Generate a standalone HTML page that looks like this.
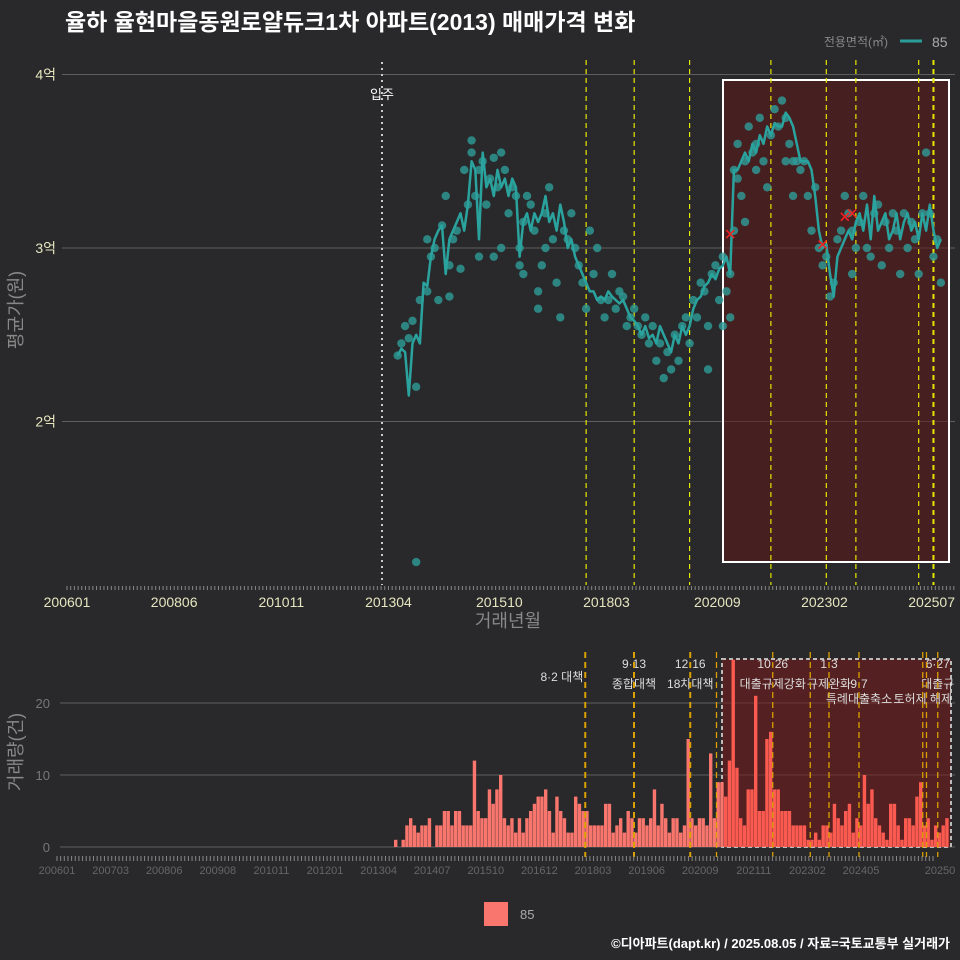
<!DOCTYPE html>
<html><head><meta charset="utf-8">
<style>
html,body{margin:0;padding:0;background:#29292b;}
svg{display:block;font-family:"Liberation Sans","Noto Sans CJK KR",sans-serif;}
</style></head>
<body>
<svg id="chart" width="960" height="960" viewBox="0 0 960 960">
<defs><clipPath id="clipAll"><rect x="0" y="0" width="955" height="960"/></clipPath></defs>
<rect x="0" y="0" width="960" height="960" fill="#29292b"/>
<text x="65" y="30" fill="#ffffff" font-size="23" font-weight="bold">율하 율현마을동원로얄듀크1차 아파트(2013) 매매가격 변화</text>
<g>
<text x="888" y="46" fill="#888" font-size="12" text-anchor="end">전용면적(㎡)</text>
<line x1="900" y1="41" x2="922" y2="41" stroke="#2a9d99" stroke-width="3"/>
<text x="932" y="47" fill="#aaa" font-size="14">85</text>
</g>
<g id="topPanel"></g>
<g id="botPanel"></g>
<g>
<rect x="484" y="902" width="24" height="24" fill="#f8766d"/>
<text x="520" y="919" fill="#aaa" font-size="13">85</text>
</g>
<text x="950" y="948" fill="#ffffff" font-size="13" font-weight="bold" text-anchor="end">©디아파트(dapt.kr) / 2025.08.05 / 자료=국토교통부 실거래가</text>
</svg>
<script>
// ---- data ----
const startMonth = 88; // months since 200601 -> 201305
const avgPrice = [
2.38,2.42,2.40,2.15,2.45,2.50,2.45,2.80,
2.78,2.95,3.05,3.10,3.13,2.85,3.05,3.10,3.15,3.20,3.10,3.25,
3.50,3.45,3.05,3.55,3.35,3.40,3.30,3.45,3.35,3.40,3.30,3.40,
3.35,2.95,3.15,3.20,3.10,3.20,3.15,3.20,3.30,3.15,3.20,3.10,
3.25,3.15,3.00,3.05,2.95,2.90,2.85,2.80,2.75,2.75,2.70,2.72,
2.70,2.75,2.72,2.70,2.68,2.70,2.65,2.60,2.58,2.55,2.50,2.55,
2.48,2.50,2.45,2.55,2.50,2.45,2.40,2.50,2.45,2.55,2.50,2.55,
2.65,2.70,2.72,2.78,2.80,2.85,2.82,2.88,2.90,2.95,2.85,3.45,
3.45,3.50,3.55,3.50,3.60,3.55,3.65,3.60,3.70,3.65,3.72,3.70,
3.70,3.78,3.75,3.70,3.60,3.50,3.50,3.50,3.45,3.30,3.10,3.00,
3.02,2.85,2.72,2.95,3.00,3.05,3.10,3.05,3.15,3.20,3.10,3.25,
3.05,3.30,3.10,3.15,3.20,3.05,3.10,3.20,3.05,3.15,3.20,3.10,
3.15,3.05,3.20,3.10,3.25,3.10,3.00,3.05];
const deals = [[0,2.38],[1,2.45],[2,2.55],[3,2.48],[4,2.58],[5,1.19],[5,2.2],[6,2.7],
[8,2.75],[8,3.05],[9,2.95],[10,3.0],[11,2.7],[12,3.13],[13,3.3],[14,2.9],[14,2.72],[15,3.05],[16,3.1],[17,2.88],[18,3.45],[19,3.25],
[20,3.55],[20,3.62],[21,3.3],[22,3.45],[23,3.5],[24,3.25],[25,3.4],[26,3.52],[27,3.35],[28,3.55],[29,3.45],[30,3.2],[31,3.35],[22,2.95],[26,2.95],[28,3.0],
[32,3.3],[33,2.9],[33,3.0],[34,2.85],[35,3.3],[36,3.25],[37,3.1],[38,2.65],[38,2.75],[39,2.9],[40,3.2],[41,3.35],[42,3.05],[43,2.8],[34,3.15],[40,3.0],
[44,2.6],[45,3.1],[46,3.05],[47,3.2],[48,3.0],[49,2.9],[50,2.8],[51,2.65],[52,3.1],[53,2.85],[54,3.0],[55,2.7],
[56,2.6],[57,2.7],[58,2.85],[59,2.65],[60,2.75],[61,2.72],[62,2.55],[63,2.6],[64,2.65],[65,2.55],[66,2.5],[67,2.6],
[68,2.45],[69,2.55],[70,2.35],[71,2.45],[72,2.25],[73,2.4],[74,2.3],[75,2.5],[76,2.35],[77,2.55],[78,2.6],[79,2.45],
[80,2.7],[81,2.6],[82,2.8],[83,2.75],[84,2.55],[85,2.85],[86,2.9],[87,2.7],[88,2.95],[89,2.75],[90,2.6],[91,3.45],[91,3.1],[90,2.85],[88,2.55],[84,2.3],
[92,3.4],[92,3.6],[93,3.3],[94,3.5],[95,3.7],[96,3.55],[97,3.6],[98,3.75],[99,3.5],[100,3.35],[101,3.65],[102,3.8],[103,3.7],[94,3.15],[97,3.45],
[104,3.85],[105,3.75],[106,3.6],[107,3.5],[108,3.5],[109,3.45],[110,3.5],[111,3.3],[112,3.1],[113,3.35],[114,3.0],[115,2.9],[105,3.5],[107,3.3],
[116,2.95],[117,2.72],[118,2.8],[119,3.05],[120,3.1],[121,3.3],[122,3.2],[123,3.1],[124,3.0],[125,3.15],[126,3.3],[127,3.0],[123,2.85],
[128,2.95],[129,3.2],[130,3.25],[131,2.9],[132,3.15],[133,3.0],[134,3.2],[135,3.1],[136,2.85],[137,3.2],[138,3.0],[139,3.15],
[140,3.05],[141,2.85],[142,3.2],[143,3.55],[144,3.2],[145,2.95],[146,3.05],[147,2.8]];
const cancelled = [[90,3.08],[115,3.02],[121,3.18],[123,3.2]];
const volume = [1,0,1,3,4,3,2,3,3,4,0,3,3,5,5,3,5,5,3,3,3,12,
5,4,4,8,6,8,10,4,3,4, 2,4,2,4,5,6,7,7,8,5, 2,7,5,4,2,2,7,6,5,5, 3,3,3,3,6,6,2,3,4,2, 5,4,2,4,4,3,4,8,3,6, 4,2,4,4,2,3,15,4,3,4, 4,3,13,4,9,9,7,
12,26,11,4,3,8,8,21,5,5, 15,16,8,8,5,5,5,3,3,3, 3,1,1,2,1,3,3,2,6,4, 3,5,6,2,4,3,10,6,8,4, 3,2,1,6,6,3,1,4,4,3, 7,9,3,4,1,3,2,3,4];
const priceTicks = [2,3,4];
const priceTickLabels = ["2억","3억","4억"];
const topXLabels = ["200601","200806","201011","201304","201510","201803","202009","202302","202507"];
const topXMonths = [0,29,58,87,117,146,176,205,234];
const volTicks = [0,10,20];
const botXLabels = ["200601","200703","200806","200908","201011","201201","201304","201407","201510","201612","201803","201906","202009","202111","202302","202405","20250"];
const policyMonths = [139,152,167,174,189,199,204,212,229,230,233];
const policyOnTop = [1,1,1,0,1,0,1,1,1,0,1];
const policyDate = ["8·2 대책","9·13","12·16","","10·26","","1·3","9·7","","","6·27"];
const policyDateRow = [1,0,0,0,0,0,0,1,0,0,0];
const policyName = ["","종합대책","18차대책","","대출규제강화","","규제완화","특례대출축소","토허제 해제","","대출규"];
const policyNameRow = [1,1,1,1,1,1,1,2,2,1,1];
const moveInMonth = 86;

// ---- scales ----
const NS="http://www.w3.org/2000/svg";
function mk(tag, attrs, parent, txt){const e=document.createElementNS(NS,tag);for(const k in attrs)e.setAttribute(k,attrs[k]);if(txt!==undefined)e.textContent=txt;parent.appendChild(e);return e;}
const xTop = m => 394 + (m-87)*3.695;
const yTop = v => 248 - (v-3)*173.5;
const xBot = m => 394 + (m-88)*3.75;
const yBot = v => 847 - v*7.2;
const rowY = [668, 688, 703];
const topG = document.getElementById('topPanel');
const botG = document.getElementById('botPanel');

// ---- top panel ----
for (let i=0;i<priceTicks.length;i++){
  const y=yTop(priceTicks[i]);
  const g=mk('line',{x1:62,y1:y,x2:955,y2:y,stroke:'#5e5e5e','stroke-width':1},topG);
  
  
  const t=mk('text',{x:56,y:y+5,fill:'#e6e6c0','font-size':14,'text-anchor':'end'},topG,priceTickLabels[i]);
  
  
}
const box1=mk('rect',{x:723,y:80,width:226,height:482,fill:'rgba(95,25,25,0.55)',stroke:'#ffffff','stroke-width':2},topG);


const mv=mk('line',{x1:382,y1:62,x2:382,y2:585,stroke:'#cccccc','stroke-width':2,'stroke-dasharray':'2,4'},topG);


const mvt=mk('text',{x:382,y:99,fill:'#ffffff','font-size':13,'text-anchor':'middle'},topG,'입주');


for (let i=0;i<policyMonths.length;i++){
  if(!policyOnTop[i]) continue;
  const x=xTop(policyMonths[i]);
  const l=mk('line',{x1:x,y1:60,x2:x,y2:585,stroke:'#e6e600','stroke-width':i==10?2:1.2,'stroke-dasharray':'5,4'},topG);
  
  
}
for (const d of deals){
  const c=mk('circle',{cx:xTop(startMonth+d[0]),cy:yTop(d[1]),r:4.2,fill:'#2e9c98','fill-opacity':0.8},topG);
  
  
}
let pts=avgPrice.map((v,i)=>xTop(startMonth+i).toFixed(1)+','+yTop(v).toFixed(1)).join(' ');
const pl=mk('polyline',{points:pts,fill:'none',stroke:'#2aa39e','stroke-width':2.5,'stroke-linejoin':'round'},topG);


for (const d of cancelled){
  const x=xTop(d[0]+startMonth), y=yTop(d[1]);
  const c=mk('path',{d:`M${x-4},${y-4}L${x+4},${y+4}M${x+4},${y-4}L${x-4},${y+4}`,stroke:'#ee2222','stroke-width':1.6},topG);
  
  
}
for (let m=0;m<=240;m++){
  const x=67+m*3.695; if(x>955) continue;
  const t=mk('line',{x1:x,y1:586,x2:x,y2:590,stroke:'#888','stroke-width':1},topG);
  
  
}
for (let i=0;i<topXLabels.length;i++){
  const t=mk('text',{x:67+topXMonths[i]*3.695,y:607,fill:'#e6e6c0','font-size':14,'text-anchor':'middle'},topG,topXLabels[i]);
  
  
}
const xt=mk('text',{x:508,y:627,fill:'#888','font-size':18,'text-anchor':'middle'},topG,'거래년월');


const yt=mk('text',{x:0,y:0,fill:'#888','font-size':18,'text-anchor':'middle',transform:'translate(22,310) rotate(-90)'},topG,'평균가(원)');



// ---- bottom panel ----
for (const v of volTicks){
  const y=yBot(v);
  const g=mk('line',{x1:60,y1:y,x2:955,y2:y,stroke:'#5e5e5e','stroke-width':1},botG);
  
  
  const t=mk('text',{x:50,y:y+5,fill:'#777','font-size':13,'text-anchor':'end'},botG,String(v));
  
  
}
const box2=mk('rect',{x:722,y:659,width:229,height:188,fill:'rgba(120,25,25,0.55)',stroke:'#bbbbbb','stroke-width':2,'stroke-dasharray':'4,3'},botG);


for (let i=0;i<volume.length;i++){
  const x=xBot(startMonth+i);
  const b=mk('rect',{x:x,y:yBot(volume[i]),width:3.4,height:volume[i]*7.2,fill:x>722?'#fb5a50':'#f8766d'},botG);
  
  
}
const lblG = mk('g',{'clip-path':'url(#clipAll)'},botG);


for (let i=0;i<policyMonths.length;i++){
  const x=xBot(policyMonths[i]);
  const l=mk('line',{x1:x,y1:652,x2:x,y2:857,stroke:'#d9a000','stroke-width':i<3?2:1.3,'stroke-dasharray':'6,4'},botG);
  
  
  if(policyDate[i]){
    const first=i==0;
    const t=mk('text',{x:first?x-2:x,y:first?681:rowY[policyDateRow[i]],fill:'#dddddd','font-size':12,'text-anchor':first?'end':'middle'},lblG,policyDate[i]);
    
    
  }
  if(policyName[i]){
    const t=mk('text',{x:x,y:rowY[policyNameRow[i]],fill:'#dddddd','font-size':12,'text-anchor':'middle'},lblG,policyName[i]);
    
    
  }
}
for (let m=0;m<=240;m++){
  const x=57+m*3.65; if(x>955) continue;
  const t=mk('line',{x1:x,y1:856,x2:x,y2:861,stroke:'#888','stroke-width':1},botG);
  
  
}
for (let i=0;i<botXLabels.length;i++){
  const x = i==botXLabels.length-1 ? 940 : 57+i*53.6;
  const t=mk('text',{x:x,y:874,fill:'#666','font-size':11,'text-anchor':'middle'},botG,botXLabels[i]);
  
  
}
const yt2=mk('text',{x:0,y:0,fill:'#888','font-size':18,'text-anchor':'middle',transform:'translate(22,752) rotate(-90)'},botG,'거래량(건)');


</script>
</body></html>
